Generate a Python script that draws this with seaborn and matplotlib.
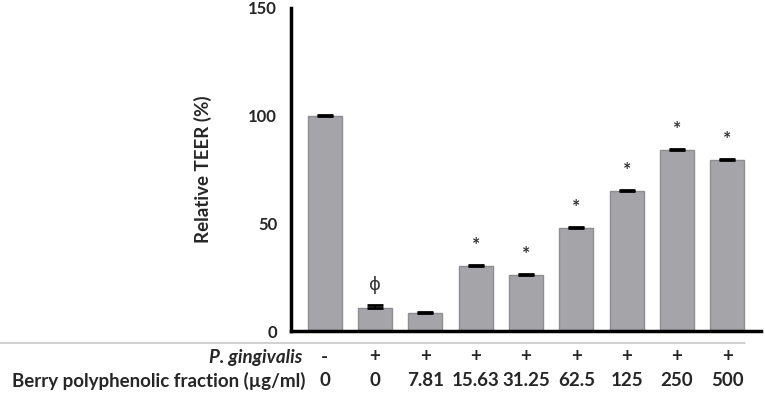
import matplotlib
matplotlib.use("Agg")
import matplotlib.pyplot as plt
import seaborn as sns
import pandas as pd
import numpy as np

# Data
groups = ["0", "0 ", "7.81", "15.63", "31.25", "62.5", "125", "250", "500"]
pg_row = ["-", "+", "+", "+", "+", "+", "+", "+", "+"]
conc_row = ["0", "0", "7.81", "15.63", "31.25", "62.5", "125", "250", "500"]
teer = [100.0, 10.5, 8.5, 30.3, 26.2, 47.9, 65.0, 84.0, 79.3]
sem = [0.4, 1.5, 0.4, 0.5, 0.4, 0.4, 0.5, 0.6, 0.5]
marks = ["", "ϕ", "", "*", "*", "*", "*", "*", "*"]
yticks = [0, 50, 100, 150]

sns.set_theme(style="white")
plt.rcParams["font.family"] = ["Lato", "DejaVu Sans"]

fig = plt.figure(figsize=(7.65, 3.95), dpi=100)
ax = fig.add_axes([291/765, 1-331/395, (761-291)/765, (331-8)/395])

df = pd.DataFrame({"group": groups, "teer": teer})
sns.barplot(data=df, x="group", y="teer", ax=ax, color="#a4a4a9",
            saturation=1, width=0.68, errorbar=None,
            edgecolor="#8e8e92", linewidth=1.0)
xs = np.arange(len(teer))
ax.errorbar(xs, teer, yerr=[np.zeros(len(sem)), sem], fmt="none",
            ecolor="black", elinewidth=1.5, capsize=6, capthick=2.0, zorder=5)

for x, v, e, m in zip(xs, teer, sem, marks):
    if m == "*":
        ax.text(x, v + e + 5.0, m, ha="center", va="bottom", fontsize=14,
                fontweight="bold", color="#333333")
    elif m:
        ax.text(x, v + e + 5.0, m, ha="center", va="bottom", fontsize=13,
                color="#333333", family=["DejaVu Sans"])

ax.set_xlim(-0.67, 8.67)
ax.set_ylim(0, 150)
ax.set_yticks(yticks)
ax.set_yticklabels([str(t) for t in yticks], fontsize=12, fontweight="bold")
ax.set_xticks(xs)
ax.set_xticklabels([])
ax.set_xlabel("")
ax.set_ylabel("Relative TEER (%)", fontsize=13.5, fontweight="bold", labelpad=26)
for s in ["top", "right"]:
    ax.spines[s].set_visible(False)
for s in ["left", "bottom"]:
    ax.spines[s].set_linewidth(2.5)
    ax.spines[s].set_color("black")
ax.tick_params(axis="y", direction="out", length=8, width=2.5, color="black", pad=2)
ax.tick_params(axis="x", direction="out", length=7, width=2.5, color="black")

# Table below axis
fig.add_artist(plt.Line2D([0, 745/765], [1-343/395, 1-343/395],
                          color="#c8c8c8", linewidth=1.2))
y1 = 1 - 357/395
y2 = 1 - 381/395
fig.text(302/765, y1, "P. gingivalis", ha="right", va="center",
         fontsize=13.5, fontweight="bold", style="italic")
fig.text(305/765, y2, "Berry polyphenolic fraction (µg/ml)", ha="right",
         va="center", fontsize=13.5, fontweight="bold")
for x, p, c in zip(xs, pg_row, conc_row):
    xf = (ax.transData.transform((x, 0))[0]) / fig.bbox.width
    fig.text(xf, y1, p, ha="center", va="center", fontsize=13.5, fontweight="bold")
    fig.text(xf, y2, c, ha="center", va="center", fontsize=13.5, fontweight="bold")

fig.savefig("out.png", dpi=100)
